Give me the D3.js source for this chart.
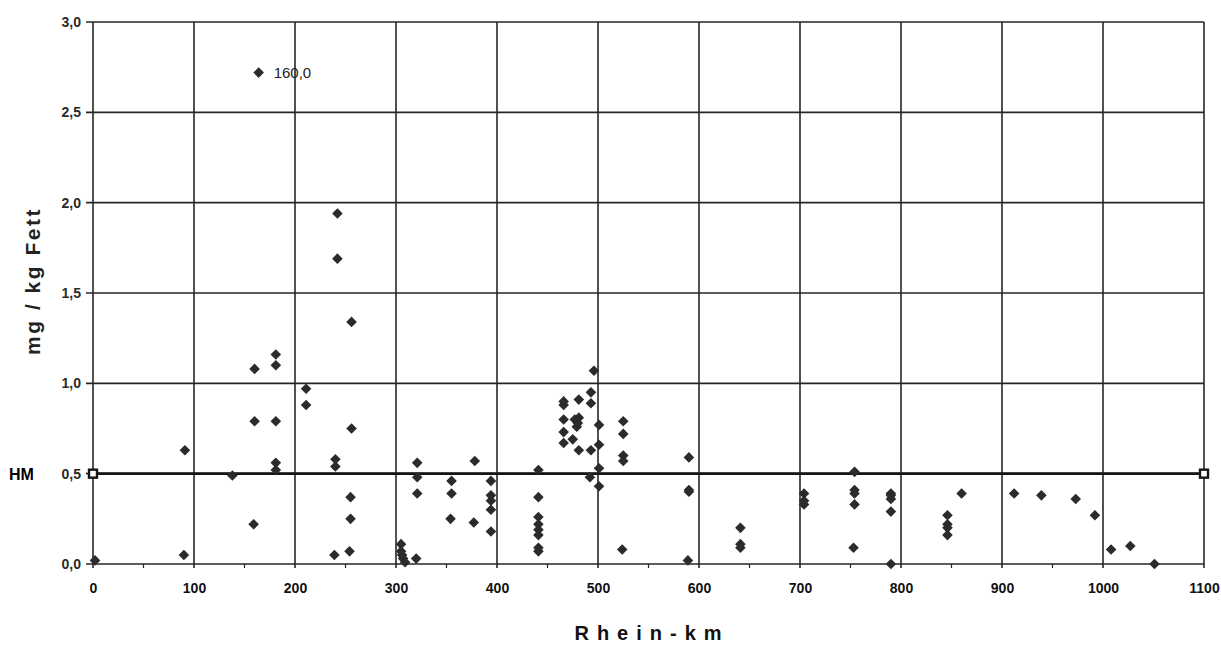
<!DOCTYPE html>
<html>
<head>
<meta charset="utf-8">
<script src="https://cdn.jsdelivr.net/npm/d3@7"></script>
<style>
  html, body { margin: 0; padding: 0; background: #fff; }
  svg { display: block; }
</style>
</head>
<body>
<svg id="chart" width="1221" height="645"></svg>
<script>
// ---- data ----
const xTicks = [0, 100, 200, 300, 400, 500, 600, 700, 800, 900, 1000, 1100];
const yTicks = [0, 0.5, 1.0, 1.5, 2.0, 2.5, 3.0];
const yTickLabels = ["0,0", "0,5", "1,0", "1,5", "2,0", "2,5", "3,0"];
const xTitle = "Rhein-km";
const yTitle = "mg / kg Fett";

// measurements: Rhein-km and value (mg/kg Fett)
const km = [
  2, 90, 91, 138,
  160, 160, 159,
  181, 181, 181, 181, 181,
  211, 211,
  242, 242, 240, 240, 239,
  256, 256, 255, 255, 254,
  305, 305, 306, 307, 309,
  321, 321, 321, 320,
  355, 355, 354,
  378, 377,
  394, 394, 394, 394, 394,
  441, 441, 441, 441, 441, 441, 441, 441,
  466, 466, 466, 466, 466, 475, 477, 480, 481, 479, 481, 481,
  496, 493, 493, 493, 501, 501, 501, 492, 501,
  525, 525, 525, 525, 524,
  590, 590, 590, 589,
  641, 641, 641,
  704, 704, 704,
  754, 754, 754, 754, 753,
  790, 790, 790, 790, 790,
  846, 846, 846, 846,
  860,
  912, 939, 973, 992, 1008, 1027, 1051
];
const value = [
  0.02, 0.05, 0.63, 0.49,
  1.08, 0.79, 0.22,
  1.16, 1.10, 0.79, 0.56, 0.52,
  0.97, 0.88,
  1.94, 1.69, 0.58, 0.54, 0.05,
  1.34, 0.75, 0.37, 0.25, 0.07,
  0.11, 0.07, 0.05, 0.03, 0.01,
  0.56, 0.48, 0.39, 0.03,
  0.46, 0.39, 0.25,
  0.57, 0.23,
  0.46, 0.38, 0.35, 0.30, 0.18,
  0.52, 0.37, 0.26, 0.22, 0.19, 0.16, 0.09, 0.07,
  0.90, 0.88, 0.80, 0.73, 0.67, 0.69, 0.80, 0.78, 0.81, 0.76, 0.91, 0.63,
  1.07, 0.95, 0.89, 0.63, 0.77, 0.66, 0.53, 0.48, 0.43,
  0.79, 0.72, 0.60, 0.57, 0.08,
  0.59, 0.41, 0.40, 0.02,
  0.20, 0.11, 0.09,
  0.39, 0.35, 0.33,
  0.51, 0.41, 0.39, 0.33, 0.09,
  0.39, 0.38, 0.36, 0.29, 0.00,
  0.27, 0.22, 0.20, 0.16,
  0.39,
  0.39, 0.38, 0.36, 0.27, 0.08, 0.10, 0.00
];

// off-scale value, drawn near the top with its real value as label
const outlierKm = [164];
const outlierPlotted = [2.72];
const outlierLabel = ["160,0"];

// HM reference line
const hmKm = [0, 1100];
const hmValue = [0.5, 0.5];
const hmLabel = "HM";

// ---- drawing ----
const svg = d3.select("#chart");
const mLeft = 93, mRight = 1204, mTop = 22, mBottom = 564;
const x = d3.scaleLinear().domain([0, 1100]).range([mLeft, mRight]);
const y = d3.scaleLinear().domain([0, 3]).range([mBottom, mTop]);
const ink = "#262626";
const font = "Liberation Sans, Arial, sans-serif";

// vertical grid lines
svg.append("g").selectAll("line").data(xTicks).join("line")
  .attr("x1", d => x(d)).attr("x2", d => x(d))
  .attr("y1", y(3)).attr("y2", y(0) + 4)
  .attr("stroke", ink).attr("stroke-width", 1.6);

// horizontal grid lines
svg.append("g").selectAll("line").data(yTicks).join("line")
  .attr("x1", x(0) - 7).attr("x2", x(1100))
  .attr("y1", d => y(d)).attr("y2", d => y(d))
  .attr("stroke", ink).attr("stroke-width", 1.6);

// minor x ticks every 50 km
const minor = d3.range(50, 1100, 100);
svg.append("g").selectAll("line").data(minor).join("line")
  .attr("x1", d => x(d)).attr("x2", d => x(d))
  .attr("y1", y(0)).attr("y2", y(0) + 4)
  .attr("stroke", ink).attr("stroke-width", 1.2);

// axes labels (using d3 axes for text)
const yAxis = d3.axisLeft(y).tickValues(yTicks)
  .tickFormat((d, i) => yTickLabels[i]).tickSize(0).tickPadding(12);
const gy = svg.append("g").attr("transform", `translate(${mLeft},0)`).call(yAxis);
gy.select(".domain").remove();
gy.selectAll("text").attr("font-family", font)
  .attr("font-size", 14).attr("font-weight", "bold").attr("fill", "#2a2a2a");

const xAxis = d3.axisBottom(x).tickValues(xTicks).tickFormat(d3.format("d"))
  .tickSize(0).tickPadding(19);
const gx = svg.append("g").attr("transform", `translate(0,${mBottom})`).call(xAxis);
gx.select(".domain").remove();
gx.selectAll("text").attr("font-family", font)
  .attr("font-size", 14).attr("font-weight", "bold").attr("fill", "#111");

// HM line
const hmData = hmKm.map((k, i) => [k, hmValue[i]]);
svg.append("path").datum(hmData)
  .attr("d", d3.line().x(d => x(d[0])).y(d => y(d[1])))
  .attr("stroke", "#161616").attr("stroke-width", 2.8).attr("fill", "none");
svg.append("g").selectAll("rect").data(hmData).join("rect")
  .attr("x", d => x(d[0]) - 4).attr("y", d => y(d[1]) - 4)
  .attr("width", 8).attr("height", 8)
  .attr("fill", "#fff").attr("stroke", "#161616").attr("stroke-width", 2.4);
svg.append("text").attr("x", 9).attr("y", y(0.5) + 6)
  .attr("font-family", font)
  .attr("font-size", 16).attr("font-weight", "bold").attr("fill", "#000")
  .text(hmLabel);

// diamond markers
const diamond = (cx, cy, r) => `M${cx},${cy - r}L${cx + r},${cy}L${cx},${cy + r}L${cx - r},${cy}Z`;
const pts = km.map((k, i) => [k, value[i]]);
svg.append("g").selectAll("path").data(pts).join("path")
  .attr("d", d => diamond(x(d[0]), y(d[1]), 5.3))
  .attr("fill", "#2b2b2b");

// outlier
const outs = outlierKm.map((k, i) => [k, outlierPlotted[i], outlierLabel[i]]);
svg.append("g").selectAll("path").data(outs).join("path")
  .attr("d", d => diamond(x(d[0]), y(d[1]), 5.3))
  .attr("fill", "#2b2b2b");
svg.append("g").selectAll("text").data(outs).join("text")
  .attr("x", d => x(d[0]) + 15).attr("y", d => y(d[1]) + 5)
  .attr("font-family", font)
  .attr("font-size", 15).attr("fill", "#222")
  .text(d => d[2]);

// axis titles
svg.append("text").attr("x", 652).attr("y", 640)
  .attr("text-anchor", "middle")
  .attr("font-family", font)
  .attr("font-size", 20).attr("font-weight", "bold").attr("letter-spacing", 8)
  .attr("fill", "#111").text(xTitle);

svg.append("text")
  .attr("transform", `translate(40,281) rotate(-90)`)
  .attr("text-anchor", "middle")
  .attr("font-family", font)
  .attr("font-size", 21).attr("font-weight", "bold").attr("letter-spacing", 2.5)
  .attr("fill", "#222")
  .text(yTitle);
</script>
</body>
</html>
